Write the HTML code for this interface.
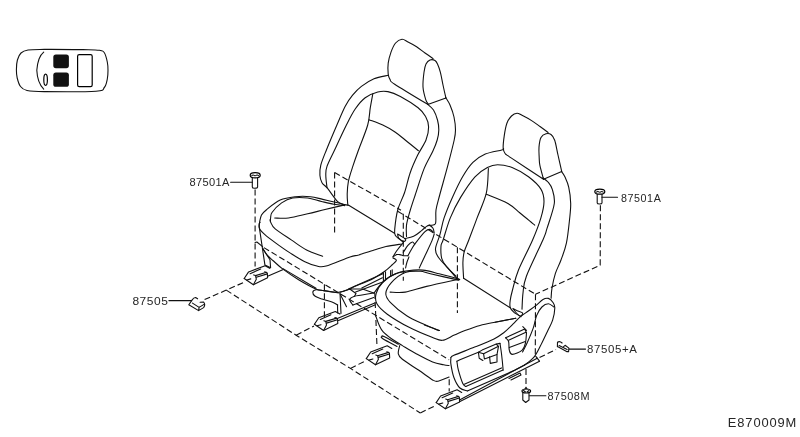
<!DOCTYPE html>
<html><head><meta charset="utf-8"><style>
html,body{margin:0;padding:0;background:#fff;width:800px;height:437px;overflow:hidden}
svg{display:block;will-change:transform}
path{fill:none;stroke:#111;stroke-width:1.1;stroke-linejoin:round;stroke-linecap:round}
path.da{stroke-dasharray:6 3;stroke-linecap:butt}
text{font-family:"Liberation Sans",sans-serif;fill:#262626}
</style></head><body>
<svg width="800" height="437" viewBox="0 0 800 437">
<path d="M433.1 58.6 C431.8 57.7 427.8 55 425 53 C422.2 51 419.4 48.5 416.6 46.7 C413.8 44.9 410.4 43.2 408 42 C405.6 40.8 404.1 39.1 402 39.3 C399.9 39.5 397.4 40.9 395.6 43 C393.8 45.1 392.2 48.8 391 52.1 C389.8 55.5 388.7 59.4 388.2 63.1 C387.7 66.8 387.9 71.3 388.2 74.1 C388.5 76.8 389 77.9 390.1 79.6 C391.2 81.3 388.4 80.1 394.7 84.2 C400.9 88.3 422.1 101 427.6 104.3"/>
<path d="M445.9 97.9 C445.4 95.8 443.9 89.3 443 85 C442.1 80.7 441.3 75.8 440.4 72.3 C439.5 68.8 438.4 66 437.5 64 C436.6 62 436.2 61.2 435 60.5 C433.8 59.8 431.5 59.4 430 60 C428.5 60.6 427 62 426 64 C425 66 424.5 68.5 424 72.3 C423.5 76.1 422.7 82.4 423 87 C423.3 91.6 424.9 96.9 425.8 99.8 C426.7 102.7 428.1 103.5 428.5 104.3"/>
<path d="M428.5 104.3 L445.9 97.9"/>
<path d="M388.3 75.3 C385.9 75.9 378.5 76.9 374 78.8 C369.5 80.7 365 83.7 361.4 86.4 C357.8 89.1 355.3 91.9 352.6 95.2 C349.9 98.5 347.7 101.5 345.1 106.5 C342.5 111.5 340 117.8 336.9 125 C333.8 132.2 329.1 143.3 326.4 150 C323.7 156.7 321.9 160.9 320.8 165.1 C319.7 169.3 319.7 172.3 319.9 175.2 C320.1 178.1 320.8 180.6 322 182.7 C323.2 184.8 325.2 185.6 327 187.7 C328.8 189.8 330.9 193 332.7 195.3 C334.5 197.6 335.8 200 337.7 201.6 C339.6 203.2 342.9 204.4 344 205"/>
<path d="M327 187.7 C326.8 185.6 325.8 178.8 325.8 175.2 C325.8 171.6 325.5 170.6 327 166.4 C328.5 162.2 331.4 156.9 334.6 150 C337.8 143.1 343 131.8 346.4 125 C349.8 118.2 352.1 113.5 355.2 109 C358.3 104.5 361.4 100.5 365.2 97.7 C369 94.9 374 93 377.8 92 C381.6 91 384.1 90.9 387.9 91.6 C391.7 92.3 395.4 93.7 400.4 96.4 C405.4 99.1 413.9 104.4 418.1 107.7 C422.3 111 423.9 113.3 425.6 116.5 C427.4 119.7 428.5 123.1 428.6 127 C428.7 130.9 427.8 135.3 426 140 C424.2 144.7 420.3 149.7 417.7 155.1 C415.1 160.5 412.4 166.4 410.2 172.7 C408 179 406.6 186.6 404.5 192.8 C402.4 199 399.3 203.9 397.7 210 C396.1 216.1 395.1 225.2 394.7 229.4 C394.3 233.6 394.6 233.7 395.3 235.2 C396 236.7 397.4 237.5 398.7 238.6 C400 239.7 402.5 241.4 403.3 242"/>
<path d="M372.8 93.9 C372.4 96.2 371.2 102.5 370.3 107.7 C369.4 112.9 369.7 118 367.7 125 C365.7 132.1 361 143.1 358.5 150 C356 156.9 354.5 161.2 352.8 166.4 C351.1 171.6 349.3 176.8 348.4 181.4 C347.5 186 347.3 190.1 347.2 194 C347.1 197.9 347.7 203.2 347.8 205"/>
<path d="M369 119.7 C371.3 120.6 378.5 123 382.8 125 C387.1 127 391.3 129.5 395 132 C398.7 134.5 401.3 136.9 405.2 140 C409.1 143.1 416.2 148.9 418.4 150.7"/>
<path d="M427.6 104.3 C428.6 105.2 431.9 107.4 433.5 110 C435.1 112.6 436.6 116.7 437.5 120 C438.4 123.3 438.9 126.7 438.8 130 C438.8 133.3 438.2 136.4 437.2 140 C436.2 143.6 435 146.5 432.8 151.3 C430.6 156.1 426.9 161.6 424 168.9 C421.1 176.2 417.5 188.2 415.2 195 C412.9 201.8 411.8 205 410.3 210 C408.9 215 407.1 220.7 406.5 225.1 C405.9 229.5 406.5 234.5 406.5 236.4"/>
<path d="M445.6 97.4 C446.3 98.7 448.6 101.7 450 105 C451.4 108.3 453.1 112.8 454 117 C454.9 121.2 455.5 126.2 455.5 130 C455.5 133.8 455.5 134.1 454.2 140 C452.9 145.9 450.3 156 447.9 165.2 C445.5 174.4 441.7 187.5 439.7 195 C437.7 202.5 436.7 205.2 436 210 C435.3 214.8 436.5 221.3 435.4 223.8 C434.2 226.3 430.2 224.9 429.1 225.1"/>
<path d="M259.2 226 C259.3 225.3 259.2 223.9 259.6 222.1 C260 220.3 260.4 217.1 261.5 215 C262.6 212.9 263.4 212.2 266.5 209.7 C269.6 207.2 275.4 202.3 280.2 200.1 C285 197.9 290.3 197.3 295.3 196.7 C300.3 196.1 305.8 196.2 310.4 196.7 C315 197.1 318.7 198.5 322.8 199.4 C326.9 200.3 331.3 201.3 335.2 202.2 C339.1 203.1 343.9 204.4 346.2 204.9 C348.4 205.4 348.3 205.1 348.7 205.2"/>
<path d="M270.4 221 C270.4 220.5 270.3 219.4 270.6 218 C270.9 216.6 270.2 215 272 212.5 C273.8 210 278.2 205.3 281.6 202.9 C285 200.5 288.2 198.8 292.6 198 C297 197.2 302.9 197.4 307.7 198 C312.5 198.6 317 200.5 321.4 201.5 C325.8 202.5 329.9 203.5 333.8 204.2 C337.7 204.9 343 205.4 344.8 205.6"/>
<path d="M274.7 218 C277 218 283 218.7 288.5 218 C294 217.3 301.6 215.2 307.7 213.8 C313.8 212.4 318.8 211 325 209.5 C331.2 208 341.5 205.7 344.8 204.9"/>
<path d="M348.7 205.2 L394.5 233.3"/>
<path d="M270.2 219.5 C270.3 219.9 269.8 220.4 270.6 222 C271.4 223.6 271.7 225.9 275.2 228.9 C278.7 231.9 286.4 236.6 291.6 240.1 C296.8 243.6 301.4 247.3 306.6 250 C311.8 252.7 319.9 255.2 322.6 256.3"/>
<path d="M260.1 222.3 C260 222.6 259.3 222.9 259.2 224 C259.1 225.1 258.8 227.1 259.7 228.9 C260.6 230.7 262.3 232.3 264.9 234.6 C267.5 236.9 271 239.5 275.2 242.6 C279.4 245.7 285.1 249.8 290 252.9 C294.9 256 299.8 259.2 304.3 261.4 C308.8 263.6 313.3 265.2 316.9 266 C320.5 266.8 320.6 267.5 326.1 266 C331.6 264.5 344.6 258.7 350 256.9 C355.4 255.1 354.7 256.1 358.7 255 C362.7 253.8 369.6 251.4 374.2 250 C378.8 248.6 381.5 247.5 386 246.5 C390.5 245.5 398.8 244.4 401.4 244"/>
<path d="M259.2 226.6 L264.9 264.9 L270.6 267.8 L270 259.8 L262.6 248.3"/>
<path d="M255.1 242.6 L256.9 242 L262.6 246.6"/>
<path d="M262.6 248.3 C263.4 249.5 265.5 253.2 267.2 255.2 C268.9 257.2 270.3 258.2 272.9 260.5 C275.5 262.8 278.3 265.7 282.6 268.9 C286.9 272.1 293.1 276.4 298.6 279.7 C304.1 283 311.6 287.1 315.8 288.9 C320 290.7 320 290 323.8 290.6 C327.6 291.2 334.2 292.6 338.6 292.3 C343 292 347.2 290 350 288.9 C352.8 287.8 352.1 287.4 355.6 285.9 C359.1 284.4 366.2 282.1 371 279.7 C375.8 277.3 380.9 273.9 384.4 271.5 C387.9 269.1 390 266.9 392 265 C394 263.1 396.2 261.5 396.4 260.3 C396.6 259.1 393.6 258.4 393 258"/>
<path d="M283 268.6 L316 288.2" stroke-width="1.6"/>
<path d="M267.6 276.3 L282.7 269.7"/>
<path d="M397.6 234 C398.1 234.3 399.2 234.9 400.5 235.8 C401.8 236.7 405 238.3 405.6 239.2 C406.2 240.1 405 241.6 403.9 241.4 C402.8 241.2 399.8 239.2 398.7 238 C397.6 236.8 397.8 234.7 397.6 234"/>
<path d="M404.4 238.6 C405.9 238.2 410.7 237.6 413.6 236.3 C416.5 235 419.5 232.2 421.6 230.6 C423.7 229 424.9 227.5 426.2 226.6 C427.5 225.7 428.5 225.1 429.6 225.4 C430.7 225.7 432.2 227.1 433 228.3 C433.8 229.6 434 232.1 434.2 232.9"/>
<path d="M403.3 242.6 C402.1 244 398.1 248.8 396.4 251.2 C394.7 253.6 393.6 255.9 393 256.9"/>
<path d="M393 256.9 L396.4 254.6"/>
<path d="M396.4 254.6 C397 254.6 398.8 254.4 399.9 254.6 C401 254.8 402 255.5 403.3 255.7 C404.6 255.9 407.1 255.7 407.9 255.7"/>
<path d="M407.9 255.7 C408.6 254.4 411.1 249.9 412.4 247.7 C413.7 245.5 413.8 245.3 415.9 242.6 C418 239.9 422.7 233.9 425 231.7 C427.3 229.5 428.3 229.4 429.6 229.4 C430.9 229.4 432.4 231.3 433 231.7"/>
<path d="M403.3 252.3 C404.1 251.2 406.4 247.1 407.9 245.4 C409.4 243.7 411.3 242.2 412.4 242 C413.5 241.8 414.3 243.9 414.7 244.3"/>
<path d="M409 256.9 C408.7 257.8 407.6 260.1 407 262 C406.4 263.9 405.8 267 405.6 268"/>
<path d="M419.3 268 C420.2 265.9 422.9 260.2 425 255.7 C427.1 251.2 430.4 244.5 431.9 240.9 C433.4 237.3 433.8 235.2 434.2 234"/>
<path d="M348.4 289 L383.4 273.5"/>
<path d="M361.8 288 L382.4 277.7" stroke-width="1.8"/>
<path d="M355.6 292.1 L383.4 281.8"/>
<path d="M383.4 272.5 L383.4 280.7"/>
<path d="M385.5 271.8 L385.5 280"/>
<path d="M390.6 270.5 L390.6 275.6"/>
<path d="M392.2 269.8 L392.2 275"/>
<path d="M374.1 293.1 C375 291.9 377.2 288.3 379.3 285.9 C381.4 283.5 383.6 280.8 386.5 278.7 C389.4 276.6 393.7 274.7 396.8 273.5 C399.9 272.3 403.6 271.8 405 271.5"/>
<path d="M340 292.2 L349.7 289 L362.5 289 L373.7 293"/>
<path d="M352.9 305.1 C352.4 304.2 349.4 301 349.7 299.5 C350 298 352.4 297.1 354.5 296.3 C356.6 295.6 358.8 295.6 362 295 C365.2 294.4 371.8 293.3 373.7 293"/>
<path d="M352.9 305.1 L373.7 297.5"/>
<path d="M349.7 289 L356 293.5 L354.5 296.3"/>
<path d="M338.5 293 C336.1 292.6 327.8 291.1 324 290.6 C320.2 290.1 317.9 289.5 316 289.8 C314.1 290.1 312.9 291.1 312.8 292.2 C312.7 293.3 313.7 295.2 315.2 296.3 C316.7 297.4 319.2 298.1 322 299 C324.8 299.9 329.4 300.9 332 301.9 C334.6 302.9 336.8 304.5 337.7 305"/>
<path d="M340 292.8 L341 313.4"/>
<path d="M337.5 305 L337.7 313"/>
<path d="M340 293.8 L346.5 306.7"/>
<path d="M337.3 318.4 L374.8 302.9"/>
<path d="M338.5 320.5 L374.8 304.9"/>
<path d="M548.1 132.5 C546.8 131.5 542.8 128.5 540 126.5 C537.2 124.5 534.6 122.5 531.6 120.6 C528.6 118.7 524.4 116.5 522 115.3 C519.6 114.1 518.8 113.1 517 113.2 C515.2 113.3 513.2 114.3 511.5 116 C509.8 117.7 508.1 120 506.9 123.3 C505.7 126.6 504.8 132 504.2 136.1 C503.6 140.2 503 145.1 503.2 148 C503.4 150.9 503.7 151.8 505.1 153.5 C506.5 155.2 505.1 153.8 511.5 158.1 C517.9 162.4 538.2 175.7 543.5 179.2"/>
<path d="M561.7 171.4 C561.1 168.7 559.2 160.2 558 155 C556.8 149.8 555.9 143.6 554.7 140.2 C553.5 136.8 552.5 135.6 551 134.5 C549.5 133.4 547.7 133.3 546 133.8 C544.3 134.3 542.2 135.3 541 137.5 C539.8 139.7 539.3 143.7 539 147.1 C538.7 150.5 539.1 154.9 539.2 158 C539.4 161.1 539.2 161.9 539.9 165.4 C540.6 168.9 542.9 176.9 543.5 179.2"/>
<path d="M543.5 179.2 L561.7 171.4"/>
<path d="M503.3 148.5 C503.1 148.8 504.8 149.1 501.8 150 C498.8 150.9 490.1 152 485.3 154.1 C480.5 156.2 476.7 158.6 472.9 162.4 C469.1 166.2 466 171 462.6 176.8 C459.2 182.6 455.5 190.6 452.4 197.4 C449.3 204.2 446.2 211.7 444.1 217.9 C442 224.1 441.4 229.3 440 234.4 C438.6 239.5 435.8 244.9 435.5 248.7 C435.2 252.5 436.1 253.8 438.2 257 C440.2 260.2 444.8 264.5 447.8 267.9 C450.8 271.3 454.3 275.6 456.1 277.5 C457.9 279.4 458.4 279.2 458.8 279.6"/>
<path d="M456.1 276.2 C454.5 274.6 448.9 269.6 446.5 266.6 C444.1 263.6 442.6 261.7 441.7 258.3 C440.8 254.9 440.8 249.1 441 246 C441.2 242.9 441.6 244.7 443.1 240 C444.7 235.3 447.4 225 450.3 217.9 C453.2 210.8 456.5 204.2 460.6 197.4 C464.7 190.6 470.5 181.8 475 176.8 C479.5 171.8 483.6 169.5 487.4 167.5 C491.2 165.5 493.5 164.8 497.6 164.8 C501.7 164.8 507 165.5 512.1 167.5 C517.2 169.5 523.7 173.2 528.5 176.8 C533.3 180.4 538.3 185 540.9 189.1 C543.5 193.2 544 196.7 544 201.5 C544 206.3 542.8 211.5 540.9 217.9 C539 224.3 536.4 231.3 532.6 240 C528.9 248.7 521.8 261.9 518.4 270.2 C515 278.5 513.9 284.9 512.5 290 C511.1 295.1 510.6 297.6 510.2 300.5 C509.8 303.4 509.6 305.5 510.2 307.5 C510.8 309.5 512.2 310.9 514 312.4 C515.8 313.9 519.8 316 521 316.7"/>
<path d="M488.4 168.5 C488 172.6 488.2 185 486.3 193.2 C484.4 201.4 480 210.1 477.1 217.9 C474.2 225.7 470.9 234.4 468.8 240 C466.7 245.6 465.3 247.8 464.3 251.5 C463.3 255.2 463 257.9 462.9 262.4 C462.8 266.8 463.5 275.6 463.6 278.2"/>
<path d="M486.3 194.3 C489.9 195.8 502.3 200.4 507.9 203.5 C513.5 206.6 515.5 209.4 520 213 C524.5 216.6 532.2 223.1 534.7 225.1"/>
<path d="M542.9 177.8 C543.8 178.5 546.5 180.1 548 182 C549.5 183.9 551.2 185.5 552.2 189.1 C553.2 192.7 555.1 197 554.3 203.5 C553.4 210 549 222.1 547.1 228.2 C545.2 234.3 546.4 232 542.9 240 C539.4 248 529.7 267.4 526.4 276.2 C523.1 285 523.7 287.5 523 293 C522.3 298.5 522.2 306.4 522 309.1"/>
<path d="M561.5 171.6 C562.1 172.5 563.8 174.4 565 177 C566.2 179.6 567.8 182.7 568.7 187.1 C569.7 191.5 570.6 198 570.7 203.5 C570.8 209 570.2 213.4 569.5 220 C568.8 226.6 567.8 236.5 566.4 243.2 C565 249.9 562.8 255 561 260 C559.2 265 556.9 268.7 555.4 273.4 C553.9 278.1 552.7 283.9 552 288 C551.3 292.1 551.2 296.5 551.1 298.2"/>
<path d="M458.8 279.6 C458.7 279.5 461.3 279.9 458 278.9 C454.7 277.9 445.1 275.3 439.2 273.8 C433.3 272.3 428.1 270.6 422.8 270.1 C417.6 269.6 412.3 270.1 407.7 270.7 C403.1 271.3 399.4 271.8 395.2 273.8 C391 275.8 385.8 279.3 382.6 282.6 C379.4 285.9 377.1 289.9 376.2 293.4 C375.2 296.9 375 300.3 376.9 303.8 C378.8 307.3 381.9 310.2 387.3 314.2 C392.8 318.2 402.2 323.8 409.6 327.6 C417.1 331.5 426.5 335.2 432 337.3 C437.5 339.4 438.7 340.7 442.4 340.3 C446.1 339.9 450.5 336.7 454.3 335.1 C458.1 333.5 460.7 332.2 465 330.6 C469.3 329 475 326.9 480 325.5 C485 324.1 489 323.4 495 322.2 C501 321 512.3 318.9 515.8 318.2"/>
<path d="M458.8 280.1 C454.1 279.1 436.8 275.3 430.4 273.8 C424 272.3 424.5 271.5 420.3 271.3 C416.1 271.1 410 270.7 405.2 272.6 C400.4 274.5 394.6 279.1 391.4 282.6 C388.2 286.1 386 290.1 385.8 293.4 C385.6 296.7 386.8 298.6 390.3 302.3 C393.8 306 401 312 406.7 315.7 C412.4 319.4 419.2 322.1 424.5 324.6 C429.8 327.1 436.3 329.6 438.7 330.6"/>
<path d="M390.1 292.1 C392.6 292.1 399.1 293.1 405.2 292.1 C411.3 291.2 417.7 288.5 426.6 286.4 C435.5 284.2 453.4 280.4 458.8 279.2"/>
<path d="M463.6 278.2 L510.2 307.8"/>
<path d="M376.2 317.2 C376.7 318.5 377.9 322.6 379.1 325 C380.3 327.4 381.1 329.6 383.2 331.9 C385.3 334.2 388.3 336.4 391.5 338.7 C394.7 341 398.3 343.1 402.4 345.6 C406.5 348.1 411.2 351.1 416.2 353.8 C421.2 356.5 428 360.2 432.6 362 C437.2 363.8 440.9 364.2 443.6 364.8 C446.4 365.4 448.2 365.4 449.1 365.5"/>
<path d="M399.7 345.6 C399.5 347 397.9 351.5 398.3 353.8 C398.8 356.1 399 356.6 402.4 359.3 C405.8 362.1 413.9 366.9 418.9 370.3 C423.9 373.7 429.4 378.1 432.6 379.9 C435.8 381.7 435.4 381.7 438.1 381.2 C440.9 380.7 447.3 377.8 449.1 377.1"/>
<path d="M398.3 344.2 C395.9 342.9 386.7 337.8 384 336.5 C381.3 335.2 382.1 336.2 381.9 336.5 C381.6 336.8 380 336.8 382.5 338.5 C385 340.2 394.6 345.2 397 346.5"/>
<path d="M424.4 325 L439.5 330.5"/>
<path d="M450.9 357.5 C451.4 357.1 449.9 357 453.9 355.3 C457.9 353.6 468 349.8 474.7 347.1 C481.4 344.4 489.2 341.3 494 338.9 C498.8 336.5 500.6 335.2 503.7 332.8 C506.8 330.4 510.1 326.9 512.9 324.2 C515.7 321.5 517.9 318.8 520.4 316.7 C522.9 314.6 525.5 313.1 528 311.3 C530.5 309.5 533 307.9 535.5 305.9 C538 303.9 540.9 300.8 543 299.5 C545.1 298.2 546.7 297.9 548.4 298.4 C550.1 298.9 552.1 301.1 553.2 302.7 C554.3 304.3 554.9 305.2 554.8 308.1 C554.7 311 554 316 552.7 319.9 C551.5 323.8 549.1 327.9 547.3 331.7 C545.5 335.5 544.1 338.6 542 342.7 C539.9 346.8 537.5 352.6 534.6 356.3 C531.7 360 526.4 363.5 524.7 364.9"/>
<path d="M553.8 307 C552.9 306.5 550.4 303.8 548.4 303.8 C546.4 303.8 543.9 305 541.9 307 C539.9 309 538 312.1 536.6 315.6 C535.2 319.1 534.9 323.4 533.3 327.9 C531.7 332.4 529 338.7 527.2 342.7 C525.4 346.7 523.3 350.4 522.5 352"/>
<path d="M450.9 357.5 C450.9 358.6 450.4 360.9 450.9 364.2 C451.4 367.5 452.4 373.5 453.9 377.5 C455.4 381.5 457.7 385.8 459.9 388 C462.1 390.2 466.1 390.4 467.3 390.9"/>
<path d="M467.3 390.9 L515 370.1 L524.7 364.9"/>
<path d="M456.9 361.2 C457.1 362.7 457.4 366.4 458.4 370.1 C459.4 373.8 461.6 380.8 462.8 383.5 C464 386.2 465.3 386 465.8 386.5"/>
<path d="M456.9 361.2 L459.9 359.7 L478.4 352.3"/>
<path d="M496.3 344.1 L500 343.4"/>
<path d="M500 343.4 C500.2 345.1 501 349.6 501.5 353.8 C502 358 502.8 365.9 503 368.6 C503.2 371.3 503 369.9 503 370.1"/>
<path d="M503 370.1 L465.8 386.5"/>
<path d="M464.3 384.2 L501.5 367.9"/>
<path d="M478.4 352.3 L482.1 350.1 L496.3 344.1 L498.5 346.3 L483.6 353.8 L478.4 352.3"/>
<path d="M478.4 352.3 L479.2 358.2 L482.9 360.5"/>
<path d="M483.6 353.8 L484.4 359 L497 354.5 L498.5 346.3"/>
<path d="M489.6 356.7 L490.3 363.4 L497 362 L497 354.5"/>
<path d="M505.6 337.8 L524.7 329.1 L526.5 332.8"/>
<path d="M526.5 332.8 C526.3 334.4 526.2 339.8 525.5 342.7 C524.8 345.6 524.4 348.2 522.2 350.1 C520 352.1 514.4 354.4 512.3 354.4 C510.1 354.4 509.9 352.2 509.3 350.1 C508.7 348 509.2 343.6 508.6 341.5 C508 339.4 506.1 338.4 505.6 337.8"/>
<path d="M508.6 340.2 L525.9 332.2"/>
<path d="M509.3 347.6 L525.3 341.5"/>
<path d="M522.8 326.6 L526.5 330.3"/>
<path d="M495 322.2 L515.8 318.2"/>
<path d="M512.9 308.6 C513.6 309 515.6 310 517.2 310.7 C518.8 311.4 522.1 312 522.6 312.9 C523.1 313.8 521.5 316.2 520.4 316.1 C519.3 316 517.2 313.8 516 312.5 C514.8 311.2 513.4 309.2 512.9 308.6"/>
<path d="M460 399.8 L537.2 358.2"/>
<path d="M459.5 401.8 L539.5 361.2"/>
<path d="M535.8 356.3 L537.2 358.2 L539.5 361.2"/>
<path d="M509 378.5 L520 373 L521 375 L511 380"/>
<path d="M244.2 278.5 L248.6 271.9 L265.1 265.7 L269.7 268.3"/>
<path d="M244.2 278.5 L253.4 284.7 L267.6 277.8 L267.3 273 L264.7 271.7"/>
<path d="M250.1 273.7 L260.7 269"/>
<path d="M255.6 275.6 L266.5 272.3"/>
<path d="M256.3 277.3 L267.3 273.9"/>
<path d="M253.4 284.7 L256.3 279.2 L255.6 275.6 L253.7 274.9"/>
<path d="M246.8 280 L250.8 278.9"/>
<path d="M314.4 324.3 L318.8 317.7 L335.3 311.5 L339.9 314.1"/>
<path d="M314.4 324.3 L323.6 330.5 L337.8 323.6 L337.5 318.8 L334.9 317.5"/>
<path d="M320.3 319.5 L330.9 314.8"/>
<path d="M325.8 321.4 L336.7 318.1"/>
<path d="M326.5 323.1 L337.5 319.7"/>
<path d="M323.6 330.5 L326.5 325 L325.8 321.4 L323.9 320.7"/>
<path d="M317 325.8 L321 324.7"/>
<path d="M366.3 358.6 L370.7 352 L387.2 345.8 L391.8 348.4"/>
<path d="M366.3 358.6 L375.5 364.8 L389.7 357.9 L389.4 353.1 L386.8 351.8"/>
<path d="M372.2 353.8 L382.8 349.1"/>
<path d="M377.7 355.7 L388.6 352.4"/>
<path d="M378.4 357.4 L389.4 354"/>
<path d="M375.5 364.8 L378.4 359.3 L377.7 355.7 L375.8 355"/>
<path d="M368.9 360.1 L372.9 359"/>
<path d="M436.2 402.6 L440.6 396 L457.1 389.8 L461.7 392.4"/>
<path d="M436.2 402.6 L445.4 408.8 L459.6 401.9 L459.3 397.1 L456.7 395.8"/>
<path d="M442.1 397.8 L452.7 393.1"/>
<path d="M447.6 399.7 L458.5 396.4"/>
<path d="M448.3 401.4 L459.3 398"/>
<path d="M445.4 408.8 L448.3 403.3 L447.6 399.7 L445.7 399"/>
<path d="M438.8 404.1 L442.8 403"/>
<path d="M255.1 189.5 L255.1 266.6" class="da"/>
<path d="M204.6 299.6 L226.3 290.1 L243.5 282.5" class="da"/>
<path d="M226.3 290.1 L296.1 335.2 L350.4 368.4 L420.3 413" class="da"/>
<path d="M296.1 335.2 L314 326" class="da"/>
<path d="M350.4 368.4 L366 360.6" class="da"/>
<path d="M420.3 413 L436 405.3" class="da"/>
<path d="M334.6 172.6 L334.6 234.3" class="da"/>
<path d="M334.6 172.6 L401 210.2" class="da"/>
<path d="M397.7 211.3 L535.5 294.3" class="da"/>
<path d="M403.3 213.8 L403.3 280.8" class="da"/>
<path d="M263.9 247.6 L449.1 359.8" class="da"/>
<path d="M324.4 284.2 L324.4 317.9" class="da"/>
<path d="M600.4 205.3 L600.2 265.2 L535.5 294.3" class="da"/>
<path d="M535.5 294.3 L535.3 355.9" class="da"/>
<path d="M457.4 247.3 L457.4 313" class="da"/>
<path d="M374.8 293 L376.9 344" class="da"/>
<path d="M449.2 379.3 L449.2 391.6" class="da"/>
<path d="M539.5 357.5 L556 349.5" class="da"/>
<path d="M526 369 L526 384" class="da"/>
<g id="car" style="stroke-width:1">
<path d="M44.4 49.4 C53.5 49.3 73.7 49.5 82.9 49.6 C92.1 49.8 95.8 49.7 99.4 50.3 C103 50.9 103.2 51 104.5 53 C105.8 55 106.7 59.1 107.3 62 C107.9 64.9 108 67.5 108 70.3 C108 73.1 107.9 76.1 107.3 79 C106.7 81.9 106.2 85.5 104.3 87.5 C102.4 89.5 106 90.5 96 91.2 C86 91.9 55.9 91.7 44.4 91.6 C32.9 91.5 31 91.3 27 90.5 C23 89.7 22.1 88.6 20.5 86.5 C18.9 84.4 17.9 80.8 17.2 78 C16.5 75.2 16.4 73 16.4 70 C16.4 67 16.6 62.8 17.4 60 C18.2 57.2 19.2 54.7 21 53 C22.8 51.3 24.1 50.6 28 50 C31.9 49.4 35.2 49.5 44.4 49.4Z"/>
<path d="M43.7 52.1 C40 55 37.5 61 36.8 70.3 C37.2 79 39.5 85 43.7 89.2"/>
<ellipse cx="45.6" cy="79.7" rx="1.8" ry="5.6" fill="none" stroke="#000" stroke-width="1.2"/>
<rect x="53.3" y="54.4" width="15.6" height="13.8" rx="2.6" fill="#111"/>
<rect x="53.3" y="72.6" width="15.6" height="14.2" rx="2.6" fill="#111"/>
<rect x="77.6" y="54.6" width="14.6" height="32" rx="1.6" fill="none" stroke="#000" stroke-width="1.2"/>
</g>
<g id="bolts">
<ellipse cx="255.2" cy="175.2" rx="5" ry="2.6" fill="none" stroke="#000" stroke-width="1.2"/>
<path d="M251.8 175.6 Q253 174.4 254.6 175.6 M255.6 175.6 Q257.2 174.4 258.5 175.6" stroke-width="0.8"/>
<path d="M252.3 178 L252.3 187 Q252.3 188.3 254.5 188.3 Q257.6 188.3 257.6 187 L257.6 178"/>
<path d="M230.6 182.2 L252.2 182.2"/>
<ellipse cx="599.8" cy="191.7" rx="5" ry="2.5" fill="none" stroke="#000" stroke-width="1.2"/>
<path d="M596.4 192.1 Q597.8 190.9 599.3 192.1 M600.3 192.1 Q601.8 190.9 603.2 192.1" stroke-width="0.8"/>
<path d="M597.2 194.2 L597.2 203 Q597.2 204 599.6 204 Q602 204 602 203 L602 194.2"/>
<path d="M602 197.2 L617.5 197.2"/>
<path d="M168.9 300.6 L191.5 300.6"/>
<path d="M188.8 304.8 L192 300.1 Q193.8 297.4 195.6 297.5 L197.6 298.8 M188.8 304.8 L198.6 310.6 L203.6 307.6 Q205.8 304.5 203.6 302.1 L200.1 302.3 M192.5 303.1 L199.1 307.4 L203.6 304.6 M198.6 310.6 L199.1 307.4"/>
<path d="M569.1 349.1 L585.5 349.1"/>
<path d="M557.4 346.7 L557.5 342.3 Q559.6 340.6 562.1 343 M557.5 346.6 L566.6 351.6 L568.6 351.6 L568.9 348.1 L565.1 345.3 L563.6 346.6 M559.1 345.6 L567.1 349.6"/>
<path d="M529.3 395.8 L545.9 395.8"/>
<ellipse cx="526.3" cy="391" rx="4.3" ry="2" fill="none" stroke="#000" stroke-width="1.2"/><path d="M526 387.3 L525 389 M527 389 L526 387.3 M523.5 390.5 L525.5 392 M527 392 L529 390.5"/><path d="M522.8 393 L522.8 400 L525.7 402.5 L529 400 L529 393"/>
</g>
<g id="labels">
<text transform="translate(189.6 185.8) scale(0.95 1)" x="0" y="0" font-size="11.7" textLength="41.97" lengthAdjust="spacing">87501A</text>
<text transform="translate(620.9 201.8) scale(0.95 1)" x="0" y="0" font-size="11.3" textLength="42.03" lengthAdjust="spacing">87501A</text>
<text transform="translate(132.4 304.6) scale(1.1 1)" x="0" y="0" font-size="10.9" textLength="32.26" lengthAdjust="spacing">87505</text>
<text transform="translate(586.9 352.8) scale(1.1 1)" x="0" y="0" font-size="10.4" textLength="45.49" lengthAdjust="spacing">87505+A</text>
<text transform="translate(547.5 399.8) scale(1.0 1)" x="0" y="0" font-size="10.9" textLength="41.99" lengthAdjust="spacing">87508M</text>
<text transform="translate(727.8 426.6) scale(0.95 1)" x="0" y="0" font-size="13.6" textLength="72.17" lengthAdjust="spacing">E870009M</text>
</g>

</svg>
</body></html>
